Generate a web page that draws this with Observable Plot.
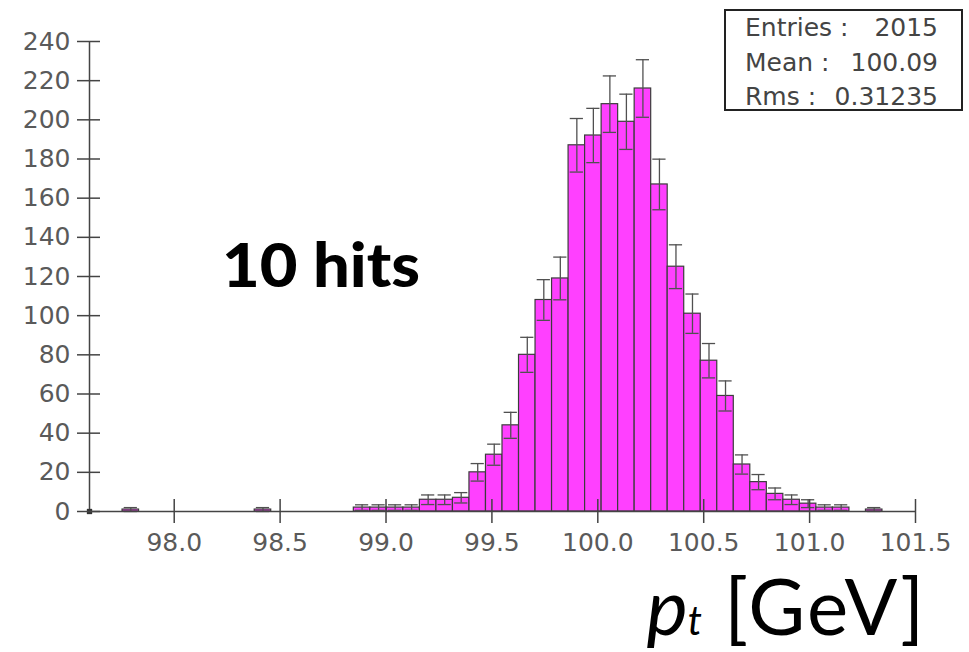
<!DOCTYPE html>
<html>
<head>
<meta charset="utf-8">
<script src="https://cdn.jsdelivr.net/npm/d3@7"></script>
<script src="https://cdn.jsdelivr.net/npm/@observablehq/plot@0.6"></script>
<style>
  html, body { margin: 0; padding: 0; background: #fff; }
  #wrap { position: relative; width: 969px; height: 652px; overflow: hidden; }
  #stats {
    position: absolute; left: 724px; top: 9px; width: 239px; height: 102px;
    box-sizing: border-box; border: 2px solid #222; background: #fff;
    font-family: "DejaVu Sans", sans-serif; font-size: 25px; color: #444;
    padding: 0 23px 0 19px;
  }
  #stats .row { display: flex; justify-content: space-between; height: 34.5px; line-height: 34.5px; white-space: pre; }
</style>
</head>
<body>
<div id="wrap"><div id="stats"></div></div>
<script>
// ---- data ----
const binLow = 97.6;        // lower edge of first bin
const binWidth = 0.078;     // bin width
const counts = [
  0, 0, 1, 0, 0, 0, 0, 0, 0, 0,
  1, 0, 0, 0, 0, 0, 2, 2, 2, 2,
  6, 6, 7, 20, 29, 44, 80, 108, 119, 187,
  192, 208, 199, 216, 167, 125, 101, 77, 59, 24,
  15, 9, 6, 4, 2, 2, 0, 1, 0, 0
];
const xDomain = [97.6, 101.5];
const yDomain = [0, 240];
const xTicks = [98.0, 98.5, 99.0, 99.5, 100.0, 100.5, 101.0, 101.5];
const yTicks = [0, 20, 40, 60, 80, 100, 120, 140, 160, 180, 200, 220, 240];
const statLabels = ["Entries :", "Mean :", "Rms :"];
const statValues = ["2015", "100.09", "0.31235"];
const annotation = "10 hits";
const axisTitle = {sym: "p", sub: "t", unit: " [GeV]"};

// ---- derived table ----
const bins = counts.map((n, i) => ({
  x1: binLow + i * binWidth,
  x2: binLow + (i + 1) * binWidth,
  xc: binLow + (i + 0.5) * binWidth,
  n,
  lo: n - Math.sqrt(n),
  hi: n + Math.sqrt(n)
})).filter(d => d.n > 0);

const capHalf = binWidth * 0.4;

const plot = Plot.plot({
  width: 969,
  height: 652,
  marginLeft: 89,
  marginRight: 54,
  marginTop: 41,
  marginBottom: 141,
  style: { fontFamily: "DejaVu Sans, sans-serif", background: "#fff" },
  x: { domain: xDomain },
  y: { domain: yDomain },
  marks: [
    Plot.rectY(bins, { x1: "x1", x2: "x2", y: "n", fill: "#ff40ff", stroke: "#3c3c3c", strokeWidth: 1.2 }),
    Plot.ruleX(bins, { x: "xc", y1: "lo", y2: "hi", stroke: "#505050", strokeWidth: 1.3 }),
    Plot.ruleY(bins, { y: "hi", x1: d => d.xc - capHalf, x2: d => d.xc + capHalf, stroke: "#505050", strokeWidth: 1.3 }),
    Plot.ruleY(bins, { y: "lo", x1: d => d.xc - capHalf, x2: d => d.xc + capHalf, stroke: "#505050", strokeWidth: 1.3 }),
    Plot.ruleY([0], { stroke: "#444", strokeWidth: 1.5 }),
    Plot.ruleX([xDomain[0]], { stroke: "#444", strokeWidth: 1.5 }),
    Plot.dot([{ x: xDomain[0], y: 0 }], { x: "x", y: "y", symbol: "square", r: 3, fill: "#333" }),
    Plot.axisY({ ticks: yTicks, tickSize: 23, dx: 11, tickPadding: 7, fontSize: 25, stroke: "#444", fill: "#5a5a5a", strokeWidth: 1.5, label: null }),
    Plot.axisX({ ticks: xTicks, tickSize: 24, dy: -12, tickPadding: 10, fontSize: 25, stroke: "#444", fill: "#5a5a5a", strokeWidth: 1.5, tickFormat: d3.format(".1f"), label: null })
  ]
});

const wrap = document.getElementById("wrap");
wrap.insertBefore(plot, wrap.firstChild);

// annotations
const svg = d3.select(plot);
svg.append("text")
  .attr("x", 222).attr("y", 287)
  .attr("text-anchor", "start")
  .attr("font-family", "Lato, 'Open Sans', sans-serif")
  .attr("font-weight", 900)
  .attr("font-size", 60)
  .attr("fill", "#000")
  .attr("textLength", 198)
  .attr("lengthAdjust", "spacingAndGlyphs")
  .text(annotation);

const t = svg.append("text")
  .attr("x", 924).attr("y", 635)
  .attr("text-anchor", "end")
  .attr("font-family", "Lato, 'Open Sans', sans-serif")
  .attr("font-size", 78)
  .attr("fill", "#000");
t.append("tspan").attr("font-style", "italic").text(axisTitle.sym);
t.append("tspan").attr("font-style", "italic").attr("font-size", 40).text(axisTitle.sub);
t.append("tspan").attr("textLength", 222).text(axisTitle.unit);

// stats box
const stats = d3.select("#stats");
statLabels.forEach((l, i) => {
  const r = stats.append("div").attr("class", "row");
  r.append("span").text(l);
  r.append("span").text(statValues[i]);
});
</script>
</body>
</html>
